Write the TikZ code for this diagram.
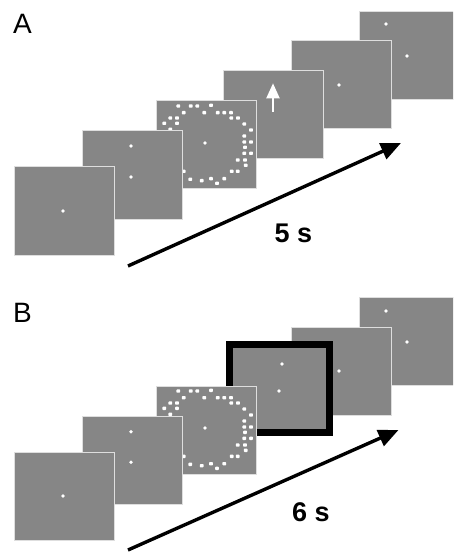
\documentclass[tikz,border=0pt]{standalone}
\usepackage{fontspec}
\setmainfont{Liberation Sans}
\usetikzlibrary{arrows.meta}
\definecolor{scr}{RGB}{134,134,134}
\definecolor{rim}{RGB}{222,222,222}
\tikzset{
 screen/.style={draw=rim, line width=1pt, fill=scr, minimum width=100pt, minimum height=88pt, inner sep=0pt, outer sep=0pt, anchor=north west},
 cue/.style={screen, draw=black, line width=7pt},
 timeline/.style={line width=3.4pt, line cap=butt, -{Triangle[length=20pt,width=17pt]}},
 lbl/.style={font=\fontsize{28}{28}\selectfont, inner sep=0pt, anchor=base west},
 dur/.style={font=\bfseries\fontsize{27}{27}\selectfont, inner sep=0pt, anchor=base},
 upcue/.style={white, line width=2pt, -{Triangle[length=15pt,width=13pt]}},
}
\newcommand{\spot}[3]{\fill[white] ([shift={(#2,#3)}]#1.north west) circle (1.9pt);}
\newcommand{\ringdots}[1]{%
 \foreach \px/\py in {22.3/5, 34.7/5, 41.3/5, 55/4.3, 27.7/11.7, 48.3/11.7, 61.7/11.7, 68.3/11.7, 75/11.7, 14.3/17, 21/17, 75.3/17, 82/17, 8.3/22.3, 21/22.3, 88.3/23, 14.3/28.3, 95/29, 88.3/35, 88.3/41, 95/41, 89/46.3, 88.3/52.3, 95/52.3, 81.7/59, 89/59, 89.7/64.3, 75.7/70.3, 81.7/70.3, 27.7/70.3, 34.3/78.3, 45.7/79.7, 55/77.7, 68.3/77.7, 61/82.3}
 {\fill[white, rounded corners=0.8pt] ([shift={(\px-1.9,\py-1.7)}]#1.north west) rectangle ([shift={(\px+1.9,\py+1.7)}]#1.north west);}%
 \spot{#1}{49}{42}}
\begin{document}
\begin{tikzpicture}[x=1pt,y=-1pt]
\useasboundingbox (0,0) rectangle (453,553);
\clip (0,0) rectangle (453,553);
% ---------- Panel A ----------
\node[lbl] (labA) at (13,34) {A};
\node[screen] (a6) at (359,12) {};
\spot{a6}{27}{12}\spot{a6}{48}{44}
\node[screen] (a5) at (291,41) {};
\spot{a5}{48}{44}
\node[screen] (a4) at (223,71) {};
\coordinate (a4s) at ([shift={(50,41)}]a4.north west);
\coordinate (a4t) at ([shift={(50,12.3)}]a4.north west);
\draw[upcue] (a4s) -- (a4t);
\node[screen] (a3) at (156,101) {};
\ringdots{a3}
\node[screen] (a2) at (82,131) {};
\spot{a2}{49}{15}\spot{a2}{49}{46}
\node[screen] (a1) at (14,167) {};
\spot{a1}{49}{44}
\coordinate (aS) at (128,266);
\coordinate (aE) at (401,143);
\draw[timeline] (aS) -- (aE);
\node[dur] (tA) at (293.5,242) {5 s};
% ---------- Panel B ----------
\node[lbl] (labB) at (13,322) {B};
\node[screen] (b6) at (359,297) {};
\spot{b6}{27}{14}\spot{b6}{48}{45}
\node[screen] (b5) at (291,327) {};
\spot{b5}{48}{44}
\node[cue] (b4) at (229.5,344) {};
\spot{b4}{52.5}{20}\spot{b4}{49.5}{47}
\node[screen] (b3) at (156,386) {};
\ringdots{b3}
\node[screen] (b2) at (82,416) {};
\spot{b2}{49}{15.7}\spot{b2}{49}{46.3}
\node[screen] (b1) at (14,452) {};
\spot{b1}{49}{44}
\coordinate (bS) at (128,550);
\coordinate (bE) at (398.5,430);
\draw[timeline] (bS) -- (bE);
\node[dur] (tB) at (311,521) {6 s};
\end{tikzpicture}
\end{document}
